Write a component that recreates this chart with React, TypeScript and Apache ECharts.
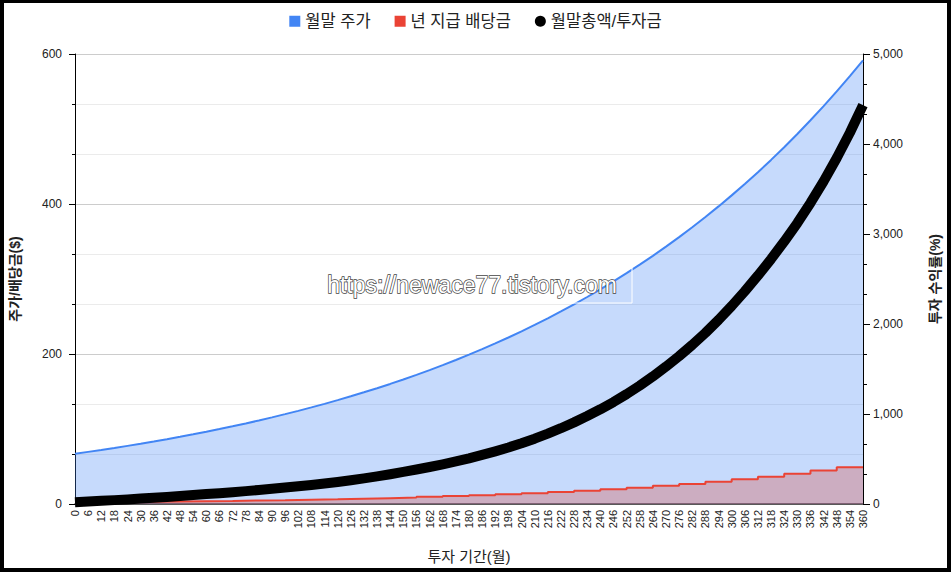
import React, { useEffect, useRef } from "react";
import * as echarts from "echarts";

const FONT = "'Liberation Sans', Arial, 'Noto Sans CJK KR', sans-serif";

const seriesNames = ["월말 주가", "년 지급 배당금", "월말총액/투자금"];
const xAxisTitle = "투자 기간(월)";
const leftAxisTitle = "주가/배당금($)";
const rightAxisTitle = "투자 수익률(%)";
const watermark = "https://newace77.tistory.com";

// month-end price, every 6 months from month 0 to 360
const priceValues = [
  67, 69.5, 72.0, 74.7, 77.5, 80.3, 83.3, 86.4, 89.6, 92.9, 96.3, 99.9, 103.6, 107.4, 111.4,
  115.5, 119.8, 124.2, 128.8, 133.5, 138.5, 143.6, 148.9, 154.4, 160.1, 166.0, 172.2, 178.5,
  185.1, 192.0, 199.1, 206.4, 214.1, 222.0, 230.2, 238.7, 247.5, 256.7, 266.2, 276.0, 286.2,
  296.8, 307.8, 319.1, 330.9, 343.2, 355.8, 369.0, 382.6, 396.8, 411.5, 426.7, 442.4, 458.8,
  475.7, 493.3, 511.6, 530.5, 550.1, 570.4, 591.5,
];

// total / invested (%), every 6 months from month 0 to 360
const returnValues = [
  20, 27, 35, 43, 51, 60, 69, 78, 88, 99, 110, 120, 131, 143, 156, 170, 183, 197, 212, 228,
  245, 264, 285, 307, 331, 357, 383, 411, 441, 473, 507, 545, 585, 628, 675, 726, 782, 842,
  907, 977, 1052, 1133, 1221, 1315, 1417, 1527, 1643, 1768, 1902, 2046, 2200, 2364, 2538,
  2722, 2916, 3122, 3345, 3585, 3845, 4125, 4433,
];

// yearly dividend paid, year 0..29
const dividendValues = [
  2.4, 2.7, 3.0, 3.3, 3.7, 4.1, 4.6, 5.1, 5.7, 6.3, 7.0, 7.8, 8.6, 9.6, 10.6, 11.8, 13.1,
  14.5, 16.0, 17.8, 19.7, 21.8, 24.2, 26.8, 29.7, 32.9, 36.5, 40.4, 44.7, 49.0,
];

const MONTH_STEP = 6;
const MONTHS_PER_YEAR = 12;

export default function App() {
  const ref = useRef<HTMLDivElement>(null);

  useEffect(() => {
    if (!ref.current) return;
    const chart = echarts.init(ref.current, null, { renderer: "svg" });

    const priceData = priceValues.map((v, i) => [i * MONTH_STEP, v]);
    const returnData = returnValues.map((v, i) => [i * MONTH_STEP, v]);
    const dividendData = dividendValues.map((v, k) => [k * MONTHS_PER_YEAR, v]);
    dividendData.push([dividendValues.length * MONTHS_PER_YEAR, dividendValues[dividendValues.length - 1]]);

    const textColor = "#222";

    chart.setOption({
      animation: false,
      textStyle: { fontFamily: FONT },
      legend: {
        top: 8,
        left: "center",
        itemWidth: 11,
        itemHeight: 11,
        itemGap: 24,
        textStyle: { fontSize: 16.5, color: textColor, fontFamily: FONT },
        data: [
          { name: seriesNames[0], icon: "rect" },
          { name: seriesNames[1], icon: "rect" },
          { name: seriesNames[2], icon: "circle" },
        ],
      },
      grid: { left: 75, right: 88, top: 54, bottom: 68, containLabel: false },
      xAxis: {
        type: "value",
        min: 0,
        max: 360,
        interval: 6,
        name: xAxisTitle,
        nameLocation: "middle",
        nameGap: 45,
        nameTextStyle: { fontSize: 15, color: textColor, fontFamily: FONT },
        axisLine: { show: true, lineStyle: { color: "#333", width: 1.5 } },
        axisTick: { show: false },
        splitLine: { show: false },
        axisLabel: {
          rotate: 90,
          fontSize: 11,
          color: textColor,
          margin: 6,
          showMinLabel: true,
          showMaxLabel: true,
          fontFamily: FONT,
        },
      },
      yAxis: [
        {
          type: "value",
          min: 0,
          max: 600,
          interval: 200,
          name: leftAxisTitle,
          nameLocation: "middle",
          nameGap: 53,
          nameRotate: 90,
          nameTextStyle: { fontSize: 14, fontWeight: "bold", color: textColor, fontFamily: FONT },
          axisLine: { show: true, lineStyle: { color: "#000", width: 1 } },
          axisTick: { show: true, length: 6, lineStyle: { color: "#000" } },
          minorTick: { show: true, splitNumber: 3, length: 3, lineStyle: { color: "#000" } },
          splitLine: { show: true, lineStyle: { color: "#cccccc", width: 1 } },
          minorSplitLine: { show: true, lineStyle: { color: "#ebebeb", width: 1 } },
          axisLabel: { fontSize: 12, color: textColor, margin: 13, fontFamily: FONT },
        },
        {
          type: "value",
          min: 0,
          max: 5000,
          interval: 1000,
          name: rightAxisTitle,
          nameLocation: "middle",
          nameGap: 65,
          nameRotate: 90,
          nameTextStyle: { fontSize: 14, fontWeight: "bold", color: textColor, fontFamily: FONT },
          axisLine: { show: true, lineStyle: { color: "#000", width: 1 } },
          axisTick: { show: true, length: 7, lineStyle: { color: "#000" } },
          minorTick: { show: true, splitNumber: 3, length: 4, lineStyle: { color: "#000" } },
          splitLine: { show: false },
          axisLabel: {
            fontSize: 12,
            color: textColor,
            margin: 10,
            fontFamily: FONT,
            formatter: (v: number) => v.toLocaleString("en-US"),
          },
        },
      ],
      series: [
        {
          name: seriesNames[0],
          type: "line",
          yAxisIndex: 0,
          data: priceData,
          showSymbol: false,
          symbol: "none",
          lineStyle: { color: "#4285f4", width: 2 },
          itemStyle: { color: "#4285f4" },
          areaStyle: { color: "#4285f4", opacity: 0.3 },
          z: 2,
        },
        {
          name: seriesNames[1],
          type: "line",
          yAxisIndex: 0,
          step: "end",
          data: dividendData,
          showSymbol: false,
          symbol: "none",
          lineStyle: { color: "#ea4335", width: 2 },
          itemStyle: { color: "#ea4335" },
          areaStyle: { color: "#db4437", opacity: 0.3 },
          z: 3,
        },
        {
          name: seriesNames[2],
          type: "line",
          yAxisIndex: 1,
          data: returnData,
          showSymbol: false,
          symbol: "none",
          smooth: false,
          lineStyle: { color: "#000", width: 10, cap: "butt", join: "round" },
          itemStyle: { color: "#000" },
          z: 4,
        },
      ],
      graphic: [
        {
          type: "rect",
          z: 100,
          shape: { x: 318, y: 268, width: 314, height: 35 },
          style: { fill: "none", stroke: "#ffffff", lineWidth: 1 },
        },
        {
          type: "text",
          z: 101,
          x: 472,
          y: 285,
          style: {
            text: watermark,
            fontSize: 23,
            fontFamily: FONT,
            fill: "#ffffff",
            stroke: "#444444",
            lineWidth: 1.4,
            align: "center",
            verticalAlign: "middle",
          },
        },
      ],
    });

    return () => chart.dispose();
  }, []);

  return (
    <div style={{ position: "fixed", left: 0, top: 0, width: 951, height: 572, background: "#fff" }}>
      <div ref={ref} style={{ position: "absolute", left: 0, top: 0, width: 951, height: 572 }} />
      <div
        style={{
          position: "absolute",
          left: 0,
          top: 0,
          width: 951,
          height: 572,
          boxSizing: "border-box",
          borderStyle: "solid",
          borderColor: "#000",
          borderWidth: "3px 4px 4px 4px",
          pointerEvents: "none",
        }}
      />
    </div>
  );
}
